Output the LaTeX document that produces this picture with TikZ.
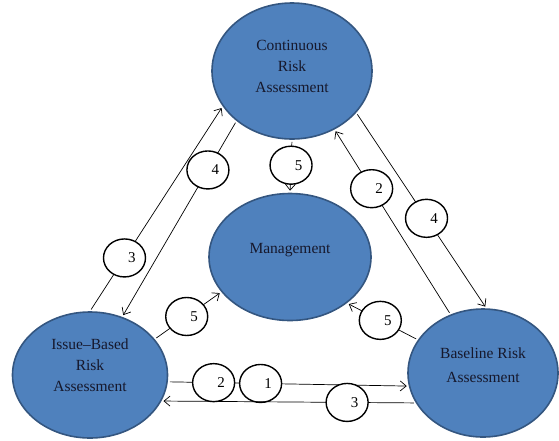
\documentclass[tikz,border=0pt]{standalone}
\usepackage{fontspec}
\setmainfont{Liberation Serif}
\usetikzlibrary{arrows.meta,shapes.geometric}
\definecolor{blob}{RGB}{79,129,189}
\definecolor{rim}{RGB}{52,86,128}
\definecolor{ink}{RGB}{22,24,44}
\newcommand{\stepno}[1]{\hspace*{15pt}#1}

\begin{document}
\begin{tikzpicture}[x=1pt,y=-1pt,>={Straight Barb[length=6pt,width=10pt]},
  font=\fontsize{15.5}{21}\selectfont,
  area/.style={ellipse,draw=rim,line width=1.6pt,fill=blob,text=ink,
               align=center,inner sep=0pt},
  num/.style={ellipse,draw=black,line width=1.4pt,fill=white,
              minimum width=42pt,minimum height=38pt,inner sep=0pt,
              font=\fontsize{15}{15}\selectfont},
  arr/.style={->,line width=0.7pt,shorten >=2pt,shorten <=2pt}]
\useasboundingbox (0,0) rectangle (559,440);
% the four assessment areas
\node[area,minimum width=160pt,minimum height=136pt,text depth=10pt] (con) at (292,71)
  {Continuous\\Risk\\Assessment};
\node[area,minimum width=162pt,minimum height=127pt,text depth=17pt] (man) at (290,257)
  {Management};
\node[area,minimum width=155pt,minimum height=126pt,text depth=20pt] (iss) at (90,375)
  {Issue--Based\\Risk\\Assessment};
\node[area,minimum width=150pt,minimum height=128pt,text depth=15pt] (bas) at (483,373)
  {Baseline Risk\\[3pt]Assessment};
% numbered flows
\draw[arr] (iss.north) -- node[num,pos=0.26] (f3a) {\stepno{3}} (con.207);
\draw[arr] (con.222) -- node[num,pos=0.25] (f4a) {\stepno{4}} (iss.61);
\draw[arr] (con.south) -- node[num,pos=0.48] (f5a) {\stepno{5}} (man.north);
\draw[arr] (bas.119) -- node[num,pos=0.68] (f2a) {\stepno{2}} (con.306);
\draw[arr] (con.327) -- node[num,pos=0.54] (f4b) {\stepno{4}} (bas.87);
\draw[arr] (iss.29) -- node[num,pos=0.48] (f5b) {\stepno{5}} (man.207);
\draw[arr] (bas.153) -- node[num,pos=0.53] (f5c) {\stepno{5}} (man.321);
\draw[arr] (iss.355) -- node[num,pos=0.19] (f2b) {\stepno{2}}
  node[num,pos=0.385] (f1) {\stepno{1}} (bas.190);
\draw[arr] (bas.204) -- node[num,pos=0.27] (f3b) {\stepno{3}} (iss.340);
\end{tikzpicture}
\end{document}
